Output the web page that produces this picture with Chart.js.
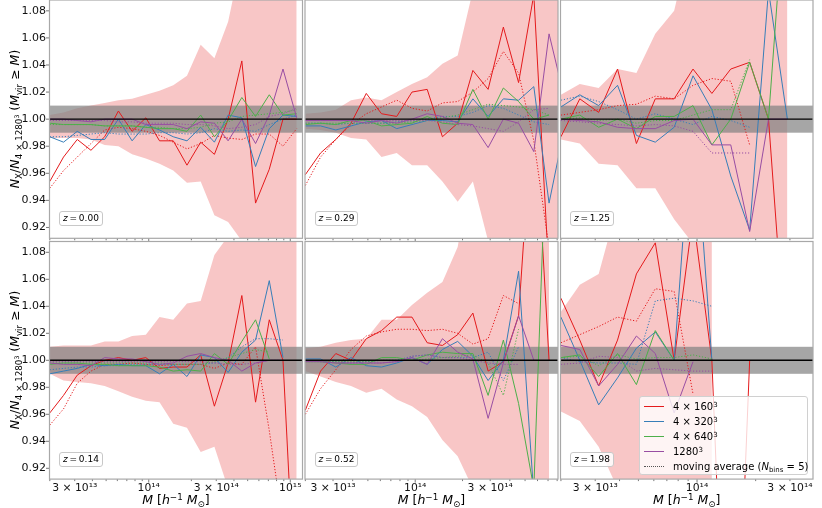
<!DOCTYPE html>
<html>
<head>
<meta charset="utf-8">
<script src="https://cdn.jsdelivr.net/npm/chart.js@4.4.1/dist/chart.umd.min.js"></script>
<style>
html, body { margin: 0; padding: 0; background: #fff; }
#fig { position: relative; width: 822px; height: 508px; overflow: hidden; font-family: 'DejaVu Sans', sans-serif; color: #000; }
#fig canvas { position: absolute; left: 0; top: 0; }
.ylab { position: absolute; white-space: nowrap; font-size: 12.5px; line-height: 1; transform: translate(-50%, -50%) rotate(-90deg); }
.xlab { position: absolute; white-space: nowrap; font-size: 12.5px; line-height: 1; transform: translateX(-50%); }
.sb { font-size: 70%; position: relative; top: 0.3em; }
.sp { font-size: 70%; position: relative; top: -0.45em; }
.zbox { position: absolute; font-size: 9px; line-height: 11px; padding: 1px 3px; border: 1px solid #c8c8c8; border-radius: 3px; background: rgba(255,255,255,0.85); white-space: nowrap; }
#legend { position: absolute; left: 639px; top: 396px; width: 169px; height: 79px; box-sizing: border-box; border: 1px solid #d0d0d0; border-radius: 3px; background: rgba(255,255,255,0.8); font-size: 10px; }
.lr { position: absolute; left: 0; height: 15px; line-height: 15px; white-space: nowrap; }
.lh { position: absolute; left: 4px; top: 7px; width: 20px; height: 0; }
.lt { position: absolute; left: 33px; top: 0; }
</style>
</head>
<body>
<div id="fig"></div>
<script>
// mass bins (h^-1 Msun), shared by all panels
const massBins = [2.000e13, 2.500e13, 3.125e13, 3.906e13, 4.883e13, 6.104e13, 7.629e13, 9.537e13,
  1.192e14, 1.490e14, 1.863e14, 2.328e14, 2.910e14, 3.638e14, 4.547e14, 5.684e14, 7.105e14, 8.882e14, 1.110e15];

// z = 0.00
const z000_160    = [0.954, 0.972, 0.985, 0.977, 0.987, 1.006, 0.991, 1.001, 0.984, 0.984, 0.966, 0.983, 0.974, 1.000, 1.043, 0.938, 0.963, 1.000, 1.000];
const z000_160ma  = [0.949, 0.962, 0.972, 0.982, 0.992, 0.994, 0.993, 0.991, 0.988, 0.983, 0.978, 0.982, 0.988, 0.986, 0.985, 0.989, 0.989, 0.980, 0.993];
const z000_320    = [0.987, 0.983, 0.991, 0.985, 0.985, 1.000, 0.984, 0.996, 0.992, 0.987, 0.984, 0.994, 0.983, 1.003, 1.001, 0.965, 0.993, 1.003, 1.002];
const z000_320ma  = [0.987, 0.987, 0.988, 0.989, 0.990, 0.989, 0.989, 0.989, 0.990, 0.990, 0.989, 0.990, 0.993, 0.991, 0.992, 0.991, 0.996, 1.000, 1.003];
const z000_640    = [0.997, 0.996, 0.996, 0.996, 0.995, 0.995, 0.995, 0.994, 0.993, 0.993, 0.991, 1.003, 0.987, 0.999, 1.016, 1.002, 1.018, 1.003, 1.004];
const z000_640ma  = [0.996, 0.996, 0.996, 0.996, 0.995, 0.995, 0.995, 0.994, 0.994, 0.993, 0.993, 0.994, 0.997, 0.998, 1.002, 1.003, 1.004, 1.005, 1.007];
const z000_1280   = [1.000, 1.000, 0.999, 0.998, 1.000, 1.000, 1.000, 0.996, 0.996, 0.996, 0.993, 0.998, 0.997, 0.984, 1.000, 0.982, 1.003, 1.037, 1.001];
const z000_1280ma = [0.999, 0.999, 0.999, 0.999, 0.999, 0.998, 0.998, 0.997, 0.997, 0.997, 0.996, 0.996, 0.995, 0.993, 0.994, 0.996, 1.002, 1.004, 1.008];
const z000_hi     = [1.003, 1.005, 1.008, 1.010, 1.012, 1.014, 1.015, 1.018, 1.021, 1.025, 1.032, 1.055, 1.045, 1.072, 1.120, 1.150, 1.200, 1.200, 1.200];
const z000_lo     = [0.986, 0.986, 0.986, 0.985, 0.981, 0.980, 0.974, 0.971, 0.967, 0.962, 0.953, 0.954, 0.929, 0.924, 0.910, 0.880, 0.850, 0.850, 0.850];

// z = 0.29
const z029_160    = [0.959, 0.975, 0.985, 0.997, 1.019, 1.004, 1.002, 1.020, 1.022, 0.987, 0.997, 1.036, 1.022, 1.068, 1.027, 1.092, 0.884];
const z029_160ma  = [0.951, 0.972, 0.985, 0.996, 1.004, 1.009, 1.014, 1.008, 1.006, 1.012, 1.013, 1.020, 1.030, 1.050, 1.034, 0.984, 0.905];
const z029_320    = [0.995, 0.995, 0.992, 0.995, 0.998, 0.999, 0.993, 0.996, 0.999, 0.999, 0.998, 1.015, 1.002, 1.015, 1.014, 1.024, 0.938, 0.993];
const z029_320ma  = [0.997, 0.997, 0.996, 0.997, 0.997, 0.997, 0.998, 0.999, 1.000, 1.002, 1.002, 1.005, 1.010, 1.008, 1.003, 0.998, 0.996];
const z029_640    = [0.996, 0.997, 0.996, 0.999, 0.999, 0.995, 0.996, 0.997, 1.002, 0.997, 0.996, 1.022, 1.000, 1.023, 1.013, 1.000, 1.003];
const z029_640ma  = [0.997, 0.997, 0.997, 0.997, 0.997, 0.997, 0.997, 0.998, 0.999, 1.001, 1.003, 1.007, 1.011, 1.010, 1.009, 1.007, 1.003];
const z029_1280   = [0.999, 0.999, 0.999, 0.999, 0.997, 0.999, 0.997, 1.000, 1.004, 1.002, 0.997, 0.996, 0.979, 1.000, 0.997, 0.976, 1.063, 1.016];
const z029_1280ma = [0.999, 0.999, 0.999, 0.999, 0.999, 0.999, 0.999, 0.999, 0.999, 0.998, 0.996, 0.995, 0.993, 0.991, 0.998, 1.007, 1.008];
const z029_hi     = [1.004, 1.005, 1.007, 1.014, 1.016, 1.014, 1.020, 1.026, 1.031, 1.041, 1.047, 1.095, 1.200, 1.200, 1.200, 1.200, 1.200, 1.200];
const z029_lo     = [0.993, 0.992, 0.990, 0.986, 0.985, 0.972, 0.975, 0.966, 0.966, 0.954, 0.939, 0.954, 0.910, 0.850, 0.850, 0.850, 0.850, 0.850];

// z = 1.25
const z125_160    = [0.987, 1.015, 1.005, 1.037, 0.982, 1.015, 1.015, 1.037, 1.019, 1.037, 1.042, 1.000, 0.810];
const z125_160ma  = [1.003, 1.005, 1.007, 1.010, 1.011, 1.017, 1.015, 1.025, 1.030, 1.028, 0.981];
const z125_320    = [1.009, 1.018, 1.010, 1.025, 0.988, 0.983, 0.994, 1.032, 1.007, 0.958, 0.918, 1.095, 1.000];
const z125_320ma  = [1.014, 1.017, 1.013, 1.007, 1.000, 1.004, 1.000, 0.996, 1.002, 0.999, 0.994];
const z125_640    = [1.000, 1.003, 0.994, 1.000, 0.993, 1.002, 1.002, 1.010, 0.981, 1.000, 1.042, 1.000, 1.190];
const z125_640ma  = [1.000, 1.001, 0.999, 1.000, 0.997, 0.999, 0.999, 1.003, 1.007, 1.007, 1.044];
const z125_1280   = [1.000, 0.999, 0.998, 0.994, 0.993, 0.993, 0.999, 1.000, 0.981, 0.981, 0.917, 1.000, 1.000];
const z125_1280ma = [0.999, 0.998, 0.997, 0.996, 0.995, 0.996, 0.995, 0.991, 0.975, 0.975, 0.975];
const z125_hi     = [1.018, 1.026, 1.023, 1.037, 1.034, 1.063, 1.080, 1.140, 1.200, 1.200, 1.200, 1.200, 1.200];
const z125_lo     = [0.985, 0.982, 0.967, 0.966, 0.949, 0.949, 0.926, 0.908, 0.850, 0.850, 0.850, 0.850, 0.850];

// z = 0.14
const z014_160    = [0.961, 0.974, 0.989, 0.996, 1.000, 1.002, 1.000, 1.002, 0.994, 0.995, 0.995, 1.004, 0.966, 0.998, 1.048, 0.969, 1.030, 1.000, 0.800];
const z014_160ma  = [0.952, 0.964, 0.983, 0.992, 0.997, 0.997, 0.998, 0.997, 0.996, 0.997, 0.997, 0.997, 0.994, 0.998, 0.997, 1.010, 0.948, 0.878];
const z014_320    = [0.990, 0.992, 0.994, 0.997, 0.996, 0.997, 0.996, 0.996, 0.990, 0.997, 0.988, 1.004, 1.002, 0.991, 1.006, 1.015, 1.059, 1.002];
const z014_320ma  = [0.993, 0.994, 0.995, 0.995, 0.996, 0.996, 0.997, 0.997, 0.997, 0.997, 0.997, 0.997, 0.998, 1.002, 1.010, 1.016, 1.016, 1.015];
const z014_640    = [0.997, 0.998, 0.998, 0.997, 0.997, 0.996, 0.996, 0.996, 0.995, 0.992, 0.993, 0.992, 1.005, 0.997, 1.014, 1.030, 1.001];
const z014_640ma  = [0.998, 0.998, 0.998, 0.998, 0.998, 0.998, 0.998, 0.998, 0.998, 0.997, 0.997, 0.997, 0.999, 1.002, 1.005, 1.008, 1.006];
const z014_1280   = [0.998, 0.997, 0.997, 0.996, 1.002, 1.001, 1.001, 0.999, 0.997, 0.998, 1.003, 1.005, 1.002, 1.000, 0.992, 0.998, 1.000, 1.000];
const z014_1280ma = [0.999, 0.999, 0.999, 0.999, 0.999, 0.999, 0.999, 0.999, 0.999, 0.999, 0.999, 0.999, 0.998, 0.997, 0.997, 0.998, 1.000, 1.000];
const z014_hi     = [1.010, 1.011, 1.011, 1.011, 1.014, 1.014, 1.018, 1.019, 1.032, 1.030, 1.042, 1.044, 1.078, 1.092, 1.200, 1.200, 1.200, 1.200, 1.200];
const z014_lo     = [0.990, 0.985, 0.984, 0.983, 0.981, 0.977, 0.973, 0.970, 0.969, 0.953, 0.950, 0.932, 0.936, 0.905, 0.850, 0.850, 0.850, 0.850, 0.850];

// z = 0.52
const z052_160    = [0.963, 0.992, 1.005, 1.000, 1.016, 1.022, 1.032, 1.032, 1.013, 1.011, 1.019, 1.035, 0.992, 0.999, 1.033, 1.200, 1.000];
const z052_160ma  = [0.960, 0.979, 0.993, 1.008, 1.018, 1.021, 1.023, 1.023, 1.022, 1.023, 1.020, 1.012, 1.016, 1.048, 1.042];
const z052_320    = [1.001, 1.001, 0.995, 1.002, 0.996, 0.995, 0.998, 1.002, 0.997, 1.008, 1.014, 1.003, 0.985, 1.000, 1.066, 0.900];
const z052_320ma  = [1.000, 0.999, 0.999, 0.998, 0.999, 1.000, 1.000, 1.003, 1.004, 1.002, 1.002, 1.002, 1.006, 0.985, 1.010];
const z052_640    = [0.999, 0.999, 0.998, 0.997, 0.997, 1.002, 1.002, 1.000, 1.004, 1.006, 1.005, 1.005, 0.974, 1.015, 0.968, 0.905, 1.220];
const z052_640ma  = [0.999, 0.999, 0.999, 0.999, 0.999, 1.000, 1.000, 1.000, 1.001, 1.002, 1.003, 1.004, 0.998, 0.974, 1.023];
const z052_1280   = [0.999, 0.999, 0.998, 0.998, 0.998, 0.998, 0.999, 1.002, 0.997, 1.016, 1.006, 1.001, 0.957, 0.998, 1.033, 1.000];
const z052_1280ma = [0.999, 0.999, 0.998, 0.998, 0.998, 0.998, 0.999, 1.003, 1.004, 1.002, 1.002, 1.000, 0.998, 0.997, 0.997];
const z052_hi     = [1.009, 1.010, 1.013, 1.015, 1.016, 1.030, 1.030, 1.041, 1.050, 1.058, 1.084, 1.150, 1.200, 1.200, 1.200, 1.200, 1.200];
const z052_lo     = [0.992, 0.988, 0.984, 0.981, 0.976, 0.979, 0.971, 0.966, 0.958, 0.941, 0.929, 0.905, 0.850, 0.850, 0.850, 0.850, 0.850];

// z = 1.98
const z198_160    = [1.046, 1.015, 0.981, 1.015, 1.064, 1.087, 1.000, 1.107, 1.000, 0.650, 1.000];
const z198_160ma  = [1.013, 1.019, 1.025, 1.032, 1.029, 1.053, 1.051, 0.975];
const z198_320    = [1.032, 1.000, 0.967, 0.987, 1.009, 1.021, 1.000, 1.193, 1.000];
const z198_320ma  = [1.002, 0.999, 0.998, 0.998, 0.997, 1.044, 1.046, 1.044, 1.040];
const z198_640    = [1.002, 1.004, 0.988, 1.005, 0.982, 1.022, 1.000, 1.000, 1.000];
const z198_640ma  = [1.002, 1.003, 0.996, 1.004, 1.001, 1.002, 1.002, 1.004, 1.001];
const z198_1280   = [1.011, 1.008, 0.981, 0.997, 1.018, 1.005, 0.961, 0.999];
const z198_1280ma = [0.997, 0.998, 1.003, 1.002, 0.992, 0.994, 0.993, 0.992, 0.992];
const z198_hi     = [1.036, 1.056, 1.064, 1.115, 1.200, 1.200, 1.200, 1.200, 1.200];
const z198_lo     = [0.962, 0.955, 0.936, 0.905, 0.850, 0.850, 0.850, 0.850, 0.850];

// axes and labels
const yMin = 0.912, yMax = 1.088;
const yTickVals = [0.92, 0.94, 0.96, 0.98, 1.00, 1.02, 1.04, 1.06, 1.08];
const xLabelVals = [3e13, 1e14, 3e14, 1e15];
const xLabelText = ['3 × 10¹³', '10¹⁴', '3 × 10¹⁴', '10¹⁵'];
const xDecades = [13, 14, 15];
const xMinorMult = [1, 2, 3, 4, 5, 6, 7, 8, 9];
const refBand = [0.99, 1.01];
const refLine = 1.0;
const colXlim = [[1.99e13, 1.22e15], [1.99e13, 8.1e14], [1.99e13, 3.94e14]];

const seriesNames = ['4 × 160<span class="sp">3</span>', '4 × 320<span class="sp">3</span>', '4 × 640<span class="sp">3</span>', '1280<span class="sp">3</span>'];
const seriesColors = ['#e41a1c', '#377eb8', '#4daf4a', '#984ea3'];
const bandColor = 'rgba(228,26,28,0.25)';

// panel geometry (pixels)
const colX = [[49.5, 302.5], [305, 558], [560.5, 813]];
const rowY = [[0, 238.3], [241.5, 479.1]];

const panels = [
  { z: '0.00', row: 0, col: 0, s: [z000_160, z000_320, z000_640, z000_1280], ma: [z000_160ma, z000_320ma, z000_640ma, z000_1280ma], hi: z000_hi, lo: z000_lo },
  { z: '0.29', row: 0, col: 1, s: [z029_160, z029_320, z029_640, z029_1280], ma: [z029_160ma, z029_320ma, z029_640ma, z029_1280ma], hi: z029_hi, lo: z029_lo },
  { z: '1.25', row: 0, col: 2, s: [z125_160, z125_320, z125_640, z125_1280], ma: [z125_160ma, z125_320ma, z125_640ma, z125_1280ma], hi: z125_hi, lo: z125_lo },
  { z: '0.14', row: 1, col: 0, s: [z014_160, z014_320, z014_640, z014_1280], ma: [z014_160ma, z014_320ma, z014_640ma, z014_1280ma], hi: z014_hi, lo: z014_lo },
  { z: '0.52', row: 1, col: 1, s: [z052_160, z052_320, z052_640, z052_1280], ma: [z052_160ma, z052_320ma, z052_640ma, z052_1280ma], hi: z052_hi, lo: z052_lo },
  { z: '1.98', row: 1, col: 2, s: [z198_160, z198_320, z198_640, z198_1280], ma: [z198_160ma, z198_320ma, z198_640ma, z198_1280ma], hi: z198_hi, lo: z198_lo }
];

function pts(arr) {
  return arr.map((v, i) => ({ x: massBins[i], y: v }));
}

// grey reference band, line at 1, frame and tick marks
const panelDecor = {
  id: 'panelDecor',
  afterDatasetDraw(chart, args) {
    if (chart.data.datasets[args.index].role !== 'bandHi') return;
    const { ctx, chartArea: a, scales: { y } } = chart;
    const yTop = y.getPixelForValue(refBand[1]);
    const yBot = y.getPixelForValue(refBand[0]);
    ctx.save();
    ctx.fillStyle = 'rgba(128,128,128,0.7)';
    ctx.fillRect(a.left, yTop, a.right - a.left, yBot - yTop);
    ctx.restore();
  },
  afterDatasetsDraw(chart) {
    const { ctx, chartArea: a, scales: { y } } = chart;
    const py = y.getPixelForValue(refLine);
    ctx.save();
    ctx.strokeStyle = '#000';
    ctx.lineWidth = 1.4;
    ctx.beginPath();
    ctx.moveTo(a.left, py);
    ctx.lineTo(a.right, py);
    ctx.stroke();
    ctx.restore();
  },
  afterDraw(chart, args, opts) {
    const { ctx, chartArea: a, scales: { x, y } } = chart;
    ctx.save();
    ctx.strokeStyle = '#555';
    ctx.lineWidth = 0.8;
    ctx.beginPath();
    for (const e of xDecades) {
      for (const m of xMinorMult) {
        const v = m * Math.pow(10, e);
        if (v < x.min || v > x.max) continue;
        const px = x.getPixelForValue(v);
        const len = m === 1 ? 3.5 : 2;
        ctx.moveTo(px, a.bottom);
        ctx.lineTo(px, a.bottom + len);
      }
    }
    if (opts.leftCol) {
      for (const v of yTickVals) {
        const py = y.getPixelForValue(v);
        ctx.moveTo(a.left - 3.5, py);
        ctx.lineTo(a.left, py);
      }
    }
    ctx.stroke();
    ctx.strokeStyle = '#a8a8a8';
    ctx.lineWidth = 1.2;
    ctx.strokeRect(a.left, a.top, a.right - a.left, a.bottom - a.top);
    ctx.restore();
  }
};

const fig = document.getElementById('fig');
const yAxisW = 46;
const xAxisH = 16;

panels.forEach((p, k) => {
  const [L, R] = colX[p.col];
  const [T, B] = rowY[p.row];
  const leftCol = p.col === 0;
  const bottomRow = p.row === 1;
  const yW = leftCol ? yAxisW : 0;
  const xH = bottomRow ? xAxisH : 0;

  const cv = document.createElement('canvas');
  cv.width = 822;
  cv.height = 508;
  cv.id = 'panel' + k;
  fig.appendChild(cv);

  const datasets = [
    { role: 'bandHi', data: pts(p.hi), fill: '+1', backgroundColor: bandColor, borderColor: 'rgba(0,0,0,0)', borderWidth: 0, pointRadius: 0, order: 20 },
    { role: 'bandLo', data: pts(p.lo), fill: false, borderColor: 'rgba(0,0,0,0)', borderWidth: 0, pointRadius: 0, order: 19 }
  ];
  p.s.forEach((arr, i) => {
    datasets.push({ data: pts(arr), borderColor: seriesColors[i], borderWidth: 1, pointRadius: 0, tension: 0, fill: false, clip: 0, order: 8 - 2 * i });
    datasets.push({ data: pts(p.ma[i]), borderColor: seriesColors[i], borderWidth: 1, borderDash: [1.2, 1.8], pointRadius: 0, tension: 0, fill: false, clip: 0, order: 7 - 2 * i });
  });

  new Chart(cv, {
    type: 'line',
    data: { datasets },
    options: {
      responsive: false,
      animation: false,
      events: [],
      layout: {
        padding: { left: L - yW, right: 822 - R, top: T, bottom: 508 - B - xH }
      },
      plugins: {
        legend: { display: false },
        tooltip: { enabled: false },
        panelDecor: { leftCol }
      },
      scales: {
        x: {
          type: 'logarithmic',
          min: colXlim[p.col][0],
          max: colXlim[p.col][1],
          display: bottomRow,
          grid: { display: false, drawTicks: false },
          border: { display: false },
          ticks: {
            autoSkip: false,
            maxRotation: 0,
            padding: 3,
            color: '#111',
            font: { family: 'DejaVu Sans', size: 10.8 },
            callback: (v) => {
              const j = xLabelVals.findIndex(t => Math.abs(t - v) / t < 1e-6);
              return j >= 0 ? xLabelText[j] : '';
            }
          },
          afterBuildTicks: (s) => {
            s.ticks = xLabelVals.filter(v => v >= s.min && v <= s.max).map(v => ({ value: v }));
          },
          afterFit: (s) => { s.height = xH; s.paddingLeft = 0; s.paddingRight = 0; }
        },
        y: {
          type: 'linear',
          min: yMin,
          max: yMax,
          display: leftCol,
          grid: { display: false, drawTicks: false },
          border: { display: false },
          ticks: {
            padding: 3.5,
            color: '#111',
            font: { family: 'DejaVu Sans', size: 11 },
            callback: (v) => v.toFixed(2)
          },
          afterBuildTicks: (s) => { s.ticks = yTickVals.map(v => ({ value: v })); },
          afterFit: (s) => { s.width = yW; s.paddingTop = 0; s.paddingBottom = 0; }
        }
      }
    },
    plugins: [panelDecor]
  });

  // redshift label box
  const zb = document.createElement('div');
  zb.className = 'zbox';
  zb.style.left = (L + 9.5) + 'px';
  zb.style.top = (B - 27.5) + 'px';
  zb.innerHTML = '<i>z</i>&thinsp;=&thinsp;' + p.z;
  fig.appendChild(zb);

  if (bottomRow) {
    const xl = document.createElement('div');
    xl.className = 'xlab';
    xl.style.left = ((L + R) / 2) + 'px';
    xl.style.top = '494px';
    xl.innerHTML = '<i>M</i> [<i>h</i><span class="sp">−1</span> <i>M</i><span class="sb">⊙</span>]';
    fig.appendChild(xl);
  }
  if (leftCol) {
    const yl = document.createElement('div');
    yl.className = 'ylab';
    yl.style.left = '15px';
    yl.style.top = ((T + B) / 2) + 'px';
    yl.innerHTML = '<i>N</i><span class="sb">X</span>/<i>N</i><span class="sb">4 × 1280<span class="sp">3</span></span> (<i>M</i><span class="sb">vir</span> ≥ <i>M</i>)';
    fig.appendChild(yl);
  }
});

// legend (bottom-right panel)
const legend = document.createElement('div');
legend.id = 'legend';
const rows = seriesNames.map((n, i) => ({ html: n, style: '1.5px solid ' + seriesColors[i] }));
rows.push({ html: 'moving average (<i>N</i><span class="sb">bins</span> = 5)', style: '1.5px dotted #555' });
rows.forEach((r, i) => {
  const d = document.createElement('div');
  d.className = 'lr';
  d.style.top = (2 + 15 * i) + 'px';
  d.style.width = '100%';
  d.innerHTML = '<span class="lh" style="border-top:' + r.style + '"></span><span class="lt">' + r.html + '</span>';
  legend.appendChild(d);
});
fig.appendChild(legend);
</script>
</body>
</html>
